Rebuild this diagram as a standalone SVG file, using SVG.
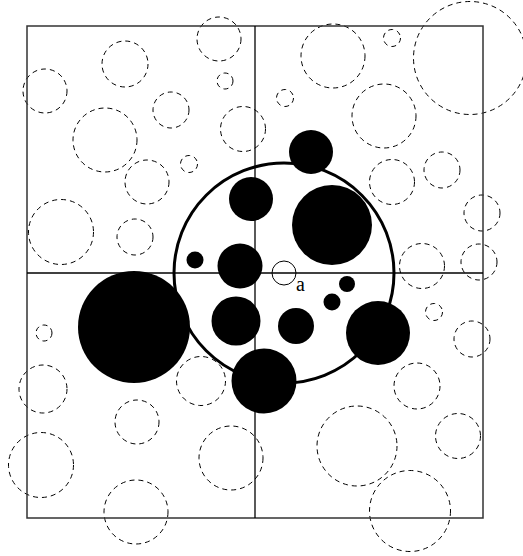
<svg xmlns="http://www.w3.org/2000/svg" width="523" height="556" viewBox="0 0 523 556">
<style>
.d{fill:none;stroke:#000;stroke-width:1;stroke-dasharray:5 4}
.f{fill:#000;stroke:none}
.fr{fill:none;stroke:#333;stroke-width:1.5}
.ax{stroke:#000;stroke-width:1.3}
.big{fill:none;stroke:#000;stroke-width:3}
.lbl{font-family:"Liberation Serif",serif;font-size:20px;fill:#000}
</style>
<rect width="523" height="556" fill="#fff"/>
<g id="dashed">
<circle class="d" cx="45" cy="91" r="22"/>
<circle class="d" cx="125" cy="64" r="23"/>
<circle class="d" cx="105" cy="140" r="32"/>
<circle class="d" cx="171" cy="110" r="18"/>
<circle class="d" cx="219" cy="39" r="22"/>
<circle class="d" cx="225" cy="81" r="8"/>
<circle class="d" cx="243" cy="129" r="22.5"/>
<circle class="d" cx="285" cy="98" r="8.5"/>
<circle class="d" cx="333" cy="56" r="32"/>
<circle class="d" cx="392" cy="38" r="8.5"/>
<circle class="d" cx="470" cy="58" r="56.5"/>
<circle class="d" cx="384" cy="116" r="32"/>
<circle class="d" cx="147" cy="182" r="22"/>
<circle class="d" cx="61" cy="232" r="32.5"/>
<circle class="d" cx="135" cy="237" r="18"/>
<circle class="d" cx="189" cy="164" r="8.5"/>
<circle class="d" cx="392" cy="182" r="22.5"/>
<circle class="d" cx="442" cy="170" r="18"/>
<circle class="d" cx="482" cy="213" r="18"/>
<circle class="d" cx="422" cy="266" r="22.5"/>
<circle class="d" cx="479" cy="262" r="18"/>
<circle class="d" cx="44" cy="333" r="8"/>
<circle class="d" cx="43" cy="389" r="24"/>
<circle class="d" cx="137" cy="422" r="22"/>
<circle class="d" cx="201" cy="381" r="24.5"/>
<circle class="d" cx="434" cy="312" r="8.5"/>
<circle class="d" cx="472" cy="339" r="18"/>
<circle class="d" cx="417" cy="386" r="23"/>
<circle class="d" cx="357" cy="446" r="40"/>
<circle class="d" cx="458" cy="436" r="22.5"/>
<circle class="d" cx="410" cy="511" r="40.5"/>
<circle class="d" cx="41" cy="465" r="32.5"/>
<circle class="d" cx="136" cy="512" r="32"/>
<circle class="d" cx="231" cy="458" r="32"/>
</g>
<g id="frame">
<rect class="fr" x="27" y="26" width="456" height="492"/>
<line class="ax" x1="255" y1="26" x2="255" y2="518"/>
<line class="ax" x1="27" y1="273" x2="483" y2="273"/>
</g>
<g id="neighbourhood">
<circle class="big" cx="284" cy="273" r="110"/>
</g>
<g id="filled">
<circle class="f" cx="134" cy="327" r="56"/>
<circle class="f" cx="311" cy="152" r="22"/>
<circle class="f" cx="251" cy="199" r="22"/>
<circle class="f" cx="332" cy="225" r="40"/>
<circle class="f" cx="195" cy="260" r="8.5"/>
<circle class="f" cx="240" cy="266" r="22.5"/>
<circle class="f" cx="347" cy="284" r="8"/>
<circle class="f" cx="332" cy="302" r="8.5"/>
<circle class="f" cx="236" cy="321" r="24.5"/>
<circle class="f" cx="296" cy="326" r="18"/>
<circle class="f" cx="264" cy="381" r="32.5"/>
<circle class="f" cx="378" cy="333" r="32"/>
</g>
<g id="point-a">
<circle cx="284" cy="273" r="12" fill="none" stroke="#000" stroke-width="1"/>
<text class="lbl" x="296" y="291">a</text>
</g>
</svg>
